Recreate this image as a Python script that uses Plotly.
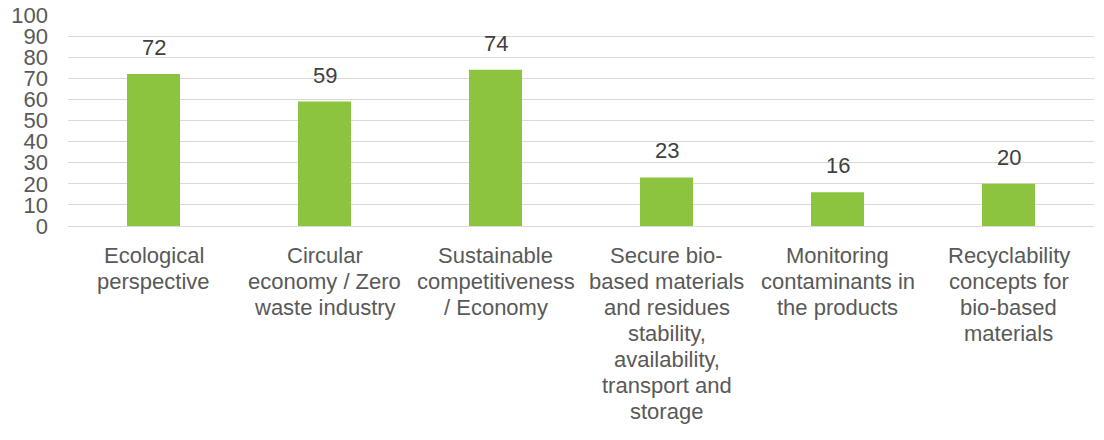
import plotly.graph_objects as go

categories = [
    "Ecological<br>perspective",
    "Circular<br>economy / Zero<br>waste industry",
    "Sustainable<br>competitiveness<br>/ Economy",
    "Secure bio-<br>based materials<br>and residues<br>stability,<br>availability,<br>transport and<br>storage",
    "Monitoring<br>contaminants in<br>the products",
    "Recyclability<br>concepts for<br>bio-based<br>materials",
]
values = [72, 59, 74, 23, 16, 20]
y_ticks = list(range(0, 101, 10))

FONT = "Liberation Sans, Arial, sans-serif"
TXT = "#595959"

fig = go.Figure(go.Bar(
    x=list(range(len(categories))), y=values,
    marker=dict(color="#8CC43F", line=dict(width=0)),
    hoverinfo="skip",
))

annotations = []
for i, (cat, v) in enumerate(zip(categories, values)):
    annotations.append(dict(x=i, y=v, xref="x", yref="y", text=str(v), showarrow=False,
                            yanchor="bottom", yshift=12,
                            font=dict(family=FONT, size=22, color="#404040")))
    for k, line in enumerate(cat.split("<br>")):
        annotations.append(dict(x=i, y=0, xref="x", yref="paper", text=line, showarrow=False,
                                yanchor="middle", xanchor="center", yshift=-(29 + 26 * k),
                                font=dict(family=FONT, size=22, color=TXT)))

fig.update_layout(
    width=1104, height=440,
    margin=dict(l=68, r=10, t=15, b=214),
    plot_bgcolor="white", paper_bgcolor="white",
    bargap=0.69, showlegend=False,
    font=dict(family=FONT, size=22, color=TXT),
    annotations=annotations,
)
fig.update_yaxes(range=[0, 100], tickvals=y_ticks, showgrid=True, gridcolor="#D9D9D9",
                 gridwidth=1, zeroline=True, zerolinecolor="#D9D9D9", zerolinewidth=1,
                 showline=False, ticklabelstandoff=19, automargin=False,
                 ticklabeloverflow="allow",
                 tickfont=dict(family=FONT, size=22, color=TXT))
fig.update_xaxes(range=[-0.5, len(categories) - 0.5], showticklabels=False,
                 showline=False, showgrid=False, automargin=False)
fig.write_html("out.html", config={"displayModeBar": False, "staticPlot": True},
               post_script="document.body.style.margin='0';document.body.style.overflow='hidden';")
